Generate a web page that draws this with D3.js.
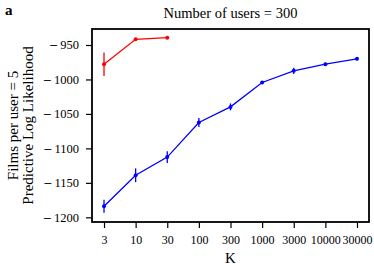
<!DOCTYPE html>
<html><head><meta charset="utf-8">
<script src="https://cdn.jsdelivr.net/npm/d3@7"></script>
<style>body{margin:0;background:#fff}svg{display:block}text{font-family:"Liberation Serif","DejaVu Serif",serif}</style>
</head><body>
<script>
const categories = ["3","10","30","100","300","1000","3000","10000","30000"];
const redValues = [-978, -941.7, -939.4];
const redErrors = [17, 1, 1];
const blueValues = [-1184, -1139, -1112.6, -1062.5, -1039.8, -1004.4, -987.5, -977.8, -970];
const blueErrors = [9.5, 10, 8.5, 6.5, 5, 1.5, 4.5, 2, 2];
const yTicks = [-950, -1000, -1050, -1100, -1150, -1200];
const titleText = "Number of users = 300";
const xLabel = "K";
const yLabel1 = "Films per user = 5";
const yLabel2 = "Predictive Log Likelihood";
const panelLabel = "a";

const W = 374, H = 270;
const m = {left: 92, right: 5, top: 29, bottom: 48};
const svg = d3.select("body").append("svg").attr("width", W).attr("height", H);
const x = d3.scalePoint().domain(categories).range([m.left, W - m.right]).padding(0.38);
const y = d3.scaleLinear().domain([-1206.8, -926.8]).range([H - m.bottom, m.top]);

const gx = svg.append("g").attr("transform", `translate(0,${H - m.bottom})`)
  .call(d3.axisBottom(x).tickSize(6).tickPadding(7));
gx.select(".domain").remove();
gx.selectAll(".tick line").attr("stroke", "#000").attr("stroke-width", 1.2);
gx.selectAll(".tick text").attr("font-size", 12).attr("font-family", "Liberation Serif").attr("fill", "#000");

const gy = svg.append("g").attr("transform", `translate(${m.left},0)`)
  .call(d3.axisLeft(y).tickValues(yTicks).tickFormat(d => (d < 0 ? "\u2212" : "") + Math.abs(d)).tickSize(6).tickPadding(7));
gy.select(".domain").remove();
gy.selectAll(".tick line").attr("stroke", "#000").attr("stroke-width", 1.2);
gy.selectAll(".tick text").attr("font-size", 12.5).attr("font-family", "Liberation Serif").attr("fill", "#000");
gy.selectAll(".tick text").each(function(d) {
  const t = d3.select(this);
  const s = t.text();
  t.text(null);
  if (d < 0) {
    t.append("tspan").attr("font-family", "DejaVu Serif").attr("font-size", 11).text(s.charAt(0));
    t.append("tspan").attr("dx", 2).text(s.slice(1));
  } else t.text(s);
});

svg.append("rect").attr("x", m.left).attr("y", m.top)
  .attr("width", W - m.right - m.left).attr("height", H - m.bottom - m.top)
  .attr("fill", "none").attr("stroke", "#000").attr("stroke-width", 1.8);

function series(vals, errs, color) {
  const pts = vals.map((v, i) => ({k: categories[i], v, e: errs[i]}));
  svg.append("path").datum(pts)
    .attr("fill", "none").attr("stroke", color).attr("stroke-width", 1.3)
    .attr("d", d3.line().x(d => x(d.k)).y(d => y(d.v)));
  svg.append("g").selectAll("line").data(pts).join("line")
    .attr("x1", d => x(d.k)).attr("x2", d => x(d.k))
    .attr("y1", d => y(d.v - d.e)).attr("y2", d => y(d.v + d.e))
    .attr("stroke", color).attr("stroke-width", 1.3);
  svg.append("g").selectAll("circle").data(pts).join("circle")
    .attr("cx", d => x(d.k)).attr("cy", d => y(d.v)).attr("r", 2).attr("fill", color);
}
series(redValues, redErrors, "#ff0000");
series(blueValues, blueErrors, "#0000ff");

svg.append("text").attr("x", (m.left + W - m.right) / 2).attr("y", 18)
  .attr("text-anchor", "middle").attr("font-size", 14.5).text(titleText);
svg.append("text").attr("x", (m.left + W - m.right) / 2).attr("y", 263)
  .attr("text-anchor", "middle").attr("font-size", 15).text(xLabel);
const cy = (m.top + H - m.bottom) / 2;
svg.append("text").attr("transform", `translate(18,${cy}) rotate(-90)`)
  .attr("text-anchor", "middle").attr("font-size", 15).text(yLabel1);
svg.append("text").attr("transform", `translate(33,${cy}) rotate(-90)`)
  .attr("text-anchor", "middle").attr("font-size", 15).text(yLabel2);
svg.append("text").attr("x", 5).attr("y", 15).attr("font-size", 15)
  .attr("font-weight", "bold").text(panelLabel);
</script>
</body></html>
